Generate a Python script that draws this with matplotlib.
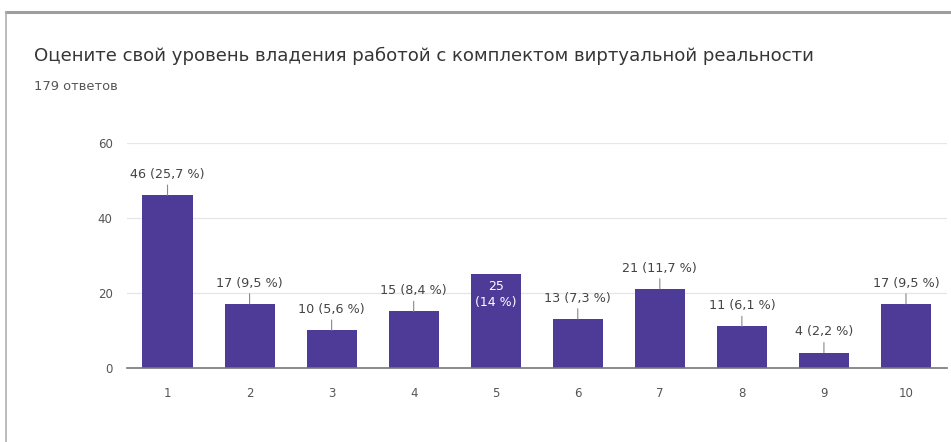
import matplotlib
matplotlib.use("Agg")
import matplotlib.pyplot as plt
from matplotlib.lines import Line2D

title = "Оцените свой уровень владения работой с комплектом виртуальной реальности"
subtitle = "179 ответов"
categories = ["1", "2", "3", "4", "5", "6", "7", "8", "9", "10"]
values = [46, 17, 10, 15, 25, 13, 21, 11, 4, 17]
total = 179
yticks = [0, 20, 40, 60]

bar_color = "#4d3b97"
text_color = "#444444"

plt.rcParams['font.family'] = ['DejaVu Sans']

fig = plt.figure(figsize=(9.51, 4.42), dpi=100)
fig.patch.set_facecolor("white")

# card border
fig.add_artist(Line2D([6/951, 1.0], [1 - 11.5/442, 1 - 11.5/442], transform=fig.transFigure,
                      color="#9e9e9e", lw=2.2))
fig.add_artist(Line2D([6/951, 6/951], [0, 1 - 11.5/442], transform=fig.transFigure,
                      color="#b0b0b0", lw=1.2))

fig.text(34/951, 1 - 56/442, title, fontsize=13.1, color="#363636", va="center", ha="left")
fig.text(34/951, 1 - 87/442, subtitle, fontsize=9.4, color="#555555", va="center", ha="left")

ax = fig.add_axes([126.5/951, 74.3/442, (947 - 126.5)/951, (367.7 - 142.7)/442])
x = list(range(1, len(categories) + 1))
ax.bar(x, values, width=0.61, color=bar_color, zorder=3)
ax.set_xlim(0.5, 10.5)
ax.set_ylim(0, 60)
ax.set_yticks(yticks)
ax.set_yticklabels([str(t) for t in yticks])
ax.set_xticks(x)
ax.set_xticklabels(categories)
ax.tick_params(axis="both", length=0, labelsize=8.5, colors="#555555")
ax.tick_params(axis="y", pad=10)
ax.tick_params(axis="x", pad=14)
ax.grid(axis="y", color="#e6e6e6", lw=0.9, zorder=0)
for s in ["top", "right", "left"]:
    ax.spines[s].set_visible(False)
ax.spines["bottom"].set_color("#777777")
ax.spines["bottom"].set_linewidth(1.2)
ax.spines["bottom"].set_zorder(4)

def fmt_pct(v):
    p = round(v / total * 100, 1)
    s = f"{p:.1f}"
    if s.endswith(".0"):
        s = s[:-2]
    return s.replace(".", ",")

for i, v in enumerate(values):
    pct = fmt_pct(v)
    if i == 4:
        ax.annotate(f"{v}\n({pct} %)", xy=(x[i], v), xytext=(0, -4), textcoords="offset points",
                    ha="center", va="top", color="white", fontsize=9,
                    linespacing=1.3, zorder=5)
        continue
    ax.annotate(f"{v} ({pct} %)", xy=(x[i], v), xytext=(0, 15), textcoords="offset points",
                ha="center", va="center", fontsize=9.2, color=text_color, zorder=5,
                arrowprops=dict(arrowstyle="-", color="#888888", lw=0.8, shrinkA=1, shrinkB=0))

fig.savefig("out.png", dpi=100, facecolor="white")
